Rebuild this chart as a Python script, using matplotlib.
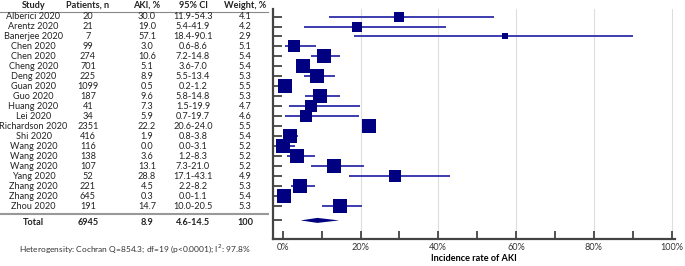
import numpy as np
import matplotlib
matplotlib.use("Agg")
import matplotlib.pyplot as plt
import matplotlib.transforms as mtransforms
from matplotlib.ticker import MultipleLocator, FuncFormatter

plt.rcParams['font.family'] = ['Lato', 'DejaVu Sans']

studies = ['Alberici 2020', 'Arentz 2020', 'Banerjee 2020', 'Chen 2020', 'Chen 2020',
           'Cheng 2020', 'Deng 2020', 'Guan 2020', 'Guo 2020', 'Huang 2020', 'Lei 2020',
           'Richardson 2020', 'Shi 2020', 'Wang 2020', 'Wang 2020', 'Wang 2020',
           'Yang 2020', 'Zhang 2020', 'Zhang 2020', 'Zhou 2020']
patients = [20, 21, 7, 99, 274, 701, 225, 1099, 187, 41, 34, 2351, 416, 116, 138, 107,
            52, 221, 645, 191]
aki = [30.0, 19.0, 57.1, 3.0, 10.6, 5.1, 8.9, 0.5, 9.6, 7.3, 5.9, 22.2, 1.9, 0.0, 3.6,
       13.1, 28.8, 4.5, 0.3, 14.7]
ci_low = [11.9, 5.4, 18.4, 0.6, 7.2, 3.6, 5.5, 0.2, 5.8, 1.5, 0.7, 20.6, 0.8, 0.0, 1.2,
          7.3, 17.1, 2.2, 0.0, 10.0]
ci_high = [54.3, 41.9, 90.1, 8.6, 14.8, 7.0, 13.4, 1.2, 14.8, 19.9, 19.7, 24.0, 3.8, 3.1,
           8.3, 21.0, 43.1, 8.2, 1.1, 20.5]
weight = [4.1, 4.2, 2.9, 5.1, 5.4, 5.4, 5.3, 5.5, 5.3, 4.7, 4.6, 5.5, 5.4, 5.2, 5.2, 5.2,
          4.9, 5.3, 5.4, 5.3]
total_n = 6945
total_aki = 8.9
total_low, total_high = 4.6, 14.5
total_weight = 100
heterogeneity = 'Heterogensity: Cochran Q=854.3; df=19 (p<0.0001); I$^2$: 97.8%'

navy = '#000080'
line_blue = '#3c3cb0'
fs = 6.6

fig = plt.figure(figsize=(6.85, 2.66), dpi=100)
ax = fig.add_axes([0.398, 0.1, 0.587, 0.868])

ys = np.arange(len(studies))
y_total = len(studies) + 0.4

# CI lines and squares
ax.hlines(ys, ci_low, ci_high, color=line_blue, lw=1.4, zorder=2)
px_per_pt = 100 / 72
for y, a, w in zip(ys, aki, weight):
    side = 3.08 * (w - 0.95) / px_per_pt
    ax.plot(a, y, marker='s', ms=side, color=navy, mec=navy, mew=0, zorder=3)

# pooled diamond
ax.fill([total_low, total_aki, total_high, total_aki],
        [y_total, y_total - 0.25, y_total, y_total + 0.25],
        color=navy, lw=0, zorder=3)

ax.set_xlim(-2.6, 100.8)
ax.set_ylim(y_total + 1.9, -0.8)
ax.set_yticks(list(ys) + [y_total])
ax.set_yticklabels([])
ax.xaxis.set_major_locator(MultipleLocator(20))
ax.xaxis.set_minor_locator(MultipleLocator(10))
ax.xaxis.set_major_formatter(FuncFormatter(lambda v, p: f'{v:.0f}%'))
ax.tick_params(axis='x', which='both', direction='in', length=6, width=1.3,
               color='#444444', labelsize=fs, labelcolor='#333333', pad=2.5)
ax.tick_params(axis='y', direction='in', length=6.5, width=1.3, color='#444444')
for x in [20, 40, 60, 80, 100]:
    ax.axvline(x, color='#dddddd', lw=0.8, zorder=0)
for s in ['top', 'right']:
    ax.spines[s].set_visible(False)
for s in ['left', 'bottom']:
    ax.spines[s].set_color('#444444')
    ax.spines[s].set_linewidth(1.6)
ax.set_xlabel('Incidence rate of AKI', fontsize=fs, fontweight='bold', labelpad=1.5)

# table on the left
tr = mtransforms.blended_transform_factory(fig.transFigure, ax.transData)
col_x = [33.5 / 685, 88 / 685, 147 / 685, 193 / 685, 245 / 685]
headers = ['Study', 'Patients, n', 'AKI, %', '95% CI', 'Weight, %']
y_head = -1.1
for x, h in zip(col_x, headers):
    ax.text(x, y_head, h, transform=tr, ha='center', va='center', fontsize=fs,
            fontweight='bold', color='#222222', clip_on=False)
for i in range(len(studies)):
    row = [studies[i], str(patients[i]), f'{aki[i]:.1f}',
           f'{ci_low[i]:.1f}-{ci_high[i]:.1f}', f'{weight[i]:.1f}']
    for x, t in zip(col_x, row):
        ax.text(x, ys[i], t, transform=tr, ha='center', va='center', fontsize=fs,
                color='#222222', clip_on=False)
row = ['Total', str(total_n), f'{total_aki:.1f}', f'{total_low}-{total_high}',
       str(total_weight)]
for x, t in zip(col_x, row):
    ax.text(x, y_total + 0.2, t, transform=tr, ha='center', va='center', fontsize=fs,
            fontweight='bold', color='#222222', clip_on=False)

ax.plot([0, 268 / 685], [-0.5, -0.5], transform=tr, color='#888888', lw=0.8,
        clip_on=False)
ax.plot([0, 268 / 685], [len(studies) - 0.2, len(studies) - 0.2], transform=tr,
        color='#999999', lw=1.5, clip_on=False)

fig.text(135 / 685, 1 - 249 / 266, heterogeneity, ha='center', va='center',
         fontsize=6, color='#333333')

fig.savefig('out.png', dpi=100)
